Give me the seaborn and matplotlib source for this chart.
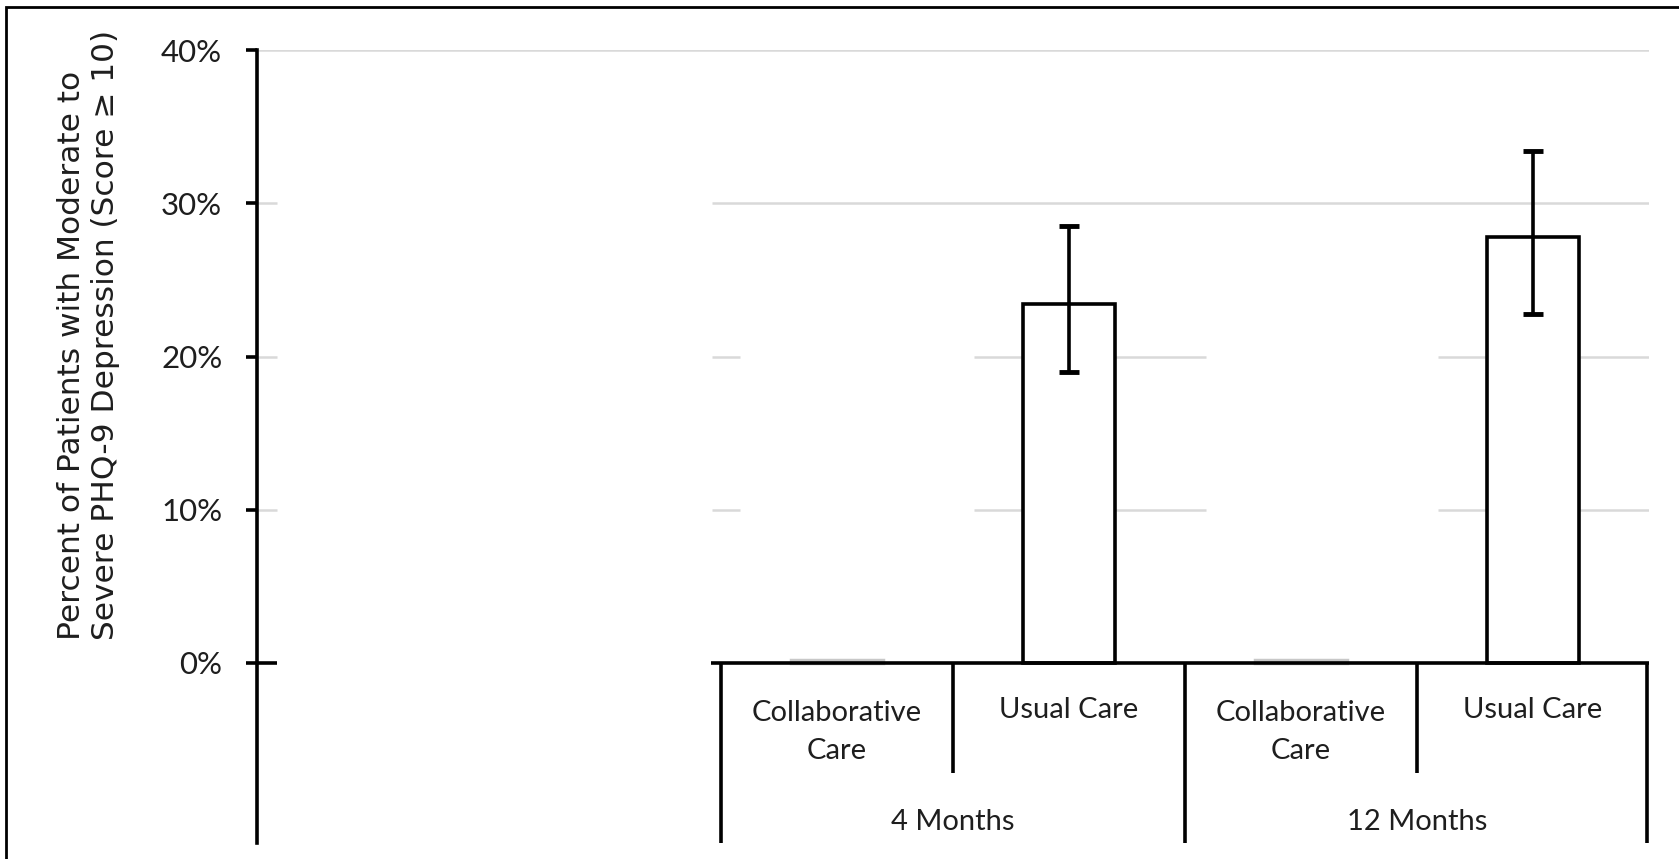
import numpy as np
import pandas as pd
import matplotlib
matplotlib.use("Agg")
import matplotlib.pyplot as plt
from matplotlib.patches import Rectangle
import seaborn as sns

# ---- data -------------------------------------------------------------
timepoints = ["4 Months", "12 Months"]
arms = ["Collaborative\nCare", "Usual Care"]
pct = [0.2, 23.4, 0.2, 27.8]            # % with PHQ-9 >= 10
ci_low = [np.nan, 19.0, np.nan, 22.8]
ci_high = [np.nan, 28.5, np.nan, 33.4]
yticks = [0, 10, 20, 30, 40]
ytick_labels = ["0%", "10%", "20%", "30%", "40%"]
ylabel = "Percent of Patients with Moderate to\nSevere PHQ-9 Depression (Score \u2265 10)"

# six category slots; the first group (two slots) is left empty
slots = ["b0", "b1", "m4_cc", "m4_uc", "m12_cc", "m12_uc"]
df = pd.DataFrame({"slot": slots[2:], "pct": pct})

sns.set_theme(style="white")
tick_font = ["Lato", "DejaVu Sans"]
title_font = ["DejaVu Sans"]
plt.rcParams["font.family"] = tick_font

W, H = 1679, 859
fig = plt.figure(figsize=(W / 100, H / 100), dpi=100)
fig.patch.set_facecolor("white")

ax_left, ax_right, ax_top, ax_bot = 257, 1649, 50, 843
ax = fig.add_axes([ax_left / W, (H - ax_bot) / H,
                   (ax_right - ax_left) / W, (ax_bot - ax_top) / H])

sns.barplot(data=df, x="slot", y="pct", order=slots, width=0.4,
            color="white", edgecolor="black", linewidth=2.6,
            errorbar=None, ax=ax, zorder=3)
for p in ax.patches:
    p.set_facecolor("white")
    if p.get_height() < 0.5:
        p.set_edgecolor("#c8c8c8")
        p.set_linewidth(2.5)

# confidence intervals
xpos = np.arange(2, 6)
vals = np.array(pct)
lo = np.array(ci_low)
hi = np.array(ci_high)
mask = ~np.isnan(lo)
ax.errorbar(xpos[mask], vals[mask],
            yerr=[vals[mask] - lo[mask], hi[mask] - vals[mask]],
            fmt="none", ecolor="black", elinewidth=2.6, capsize=7,
            capthick=3.5, zorder=4)

y_per_px = 40 / (663 - ax_top)
ymin = -(ax_bot - 663) * y_per_px
ax.set_xlim(-0.5, 5.5)
ax.set_ylim(ymin, 40)

# gridlines (the lower ones are interrupted around the Collaborative Care columns)
grid_kw = dict(color="#d9d9d9", lw=1.8, zorder=1)
stub = 20 / 232
ax.hlines(40, -0.5, 5.5, **grid_kw)
ax.hlines(30, 1.46, 5.5, **grid_kw)
for yv in [10, 20, 30]:
    ax.hlines(yv, -0.5, -0.5 + stub, **grid_kw)
for yv in [10, 20]:
    for x0, x1 in [(1.46, 1.58), (2.59, 3.59), (4.59, 5.5)]:
        ax.hlines(yv, x0, x1, **grid_kw)

# value axis
for s in ["top", "right", "bottom"]:
    ax.spines[s].set_visible(False)
ax.spines["left"].set_color("black")
ax.spines["left"].set_linewidth(2.6)
ax.set_yticks(yticks)
ax.set_yticklabels(ytick_labels)
ax.tick_params(axis="y", direction="out", length=8, width=2.6, color="black",
               pad=17, labelsize=22.5, labelcolor="#1e1e1e", left=True)
ax.tick_params(axis="x", bottom=False, labelbottom=False)
ax.set_xlabel("")
ax.set_ylabel("")

# category axis with two-level labels
line_kw = dict(color="black", lw=2.6, zorder=5, clip_on=False)
ax.hlines(0, -0.5, -0.5 + stub, **line_kw)
ax.hlines(0, 1.455, 5.5, **line_kw)
y_outer = ymin
y_inner = -(773 - 663) * y_per_px
for xv in [1.5, 3.5, 5.49]:
    ax.vlines(xv, y_outer, 0, **line_kw)
for xv in [2.5, 4.5]:
    ax.vlines(xv, y_inner, 0, **line_kw)

lab_kw = dict(ha="center", fontsize=21, color="#1e1e1e", family=tick_font,
              linespacing=1.6, clip_on=False)
for g, tp in enumerate(timepoints):
    for a, arm in enumerate(arms):
        xc = 2 + 2 * g + a
        if "\n" in arm:
            ax.text(xc, -(732 - 663) * y_per_px, arm, va="center", **lab_kw)
        else:
            ax.text(xc, -(710 - 663) * y_per_px, arm, va="center", **lab_kw)
    ax.text(2.5 + 2 * g, -(822 - 663) * y_per_px, tp, va="center", **lab_kw)

# value axis title
fig.text(88.5 / W, (H - 640) / H, ylabel, rotation=90, ha="center", va="bottom",
         multialignment="left", fontsize=22.5, color="#1e1e1e",
         family=title_font, linespacing=1.2)

# chart frame
fig.add_artist(Rectangle((6 / W, -0.05), 1.2, 1.05 - 7 / H,
                         transform=fig.transFigure, fill=False,
                         ec="black", lw=2))

fig.savefig("out.png", dpi=100, facecolor="white")
